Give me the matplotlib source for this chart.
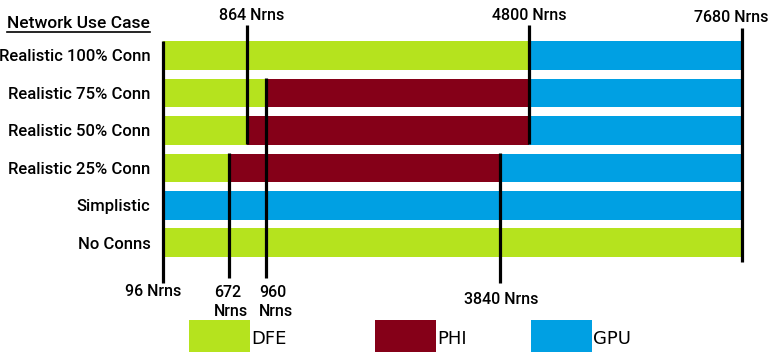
import numpy as np
import matplotlib.pyplot as plt
from matplotlib.patches import Rectangle
from matplotlib.lines import Line2D

# use cases, top to bottom
cases = ["Realistic 100% Conn", "Realistic 75% Conn", "Realistic 50% Conn",
         "Realistic 25% Conn", "Simplistic", "No Conns"]

# neuron ranges where each platform wins (start, end) per use case
dfe = [(96, 4800), (96, 960), (96, 864), (96, 672), None, (96, 7680)]
phi = [None, (960, 4800), (864, 4800), (672, 3840), None, None]
gpu = [(4800, 7680), (4800, 7680), (4800, 7680), (3840, 7680), (96, 7680), None]

# neuron counts marked on the chart
nrn_ticks = [96, 672, 864, 960, 3840, 4800, 7680]

# the original axis is drawn by hand, not to a linear scale
axis_px = [163, 229, 247, 266, 500, 529, 742]

green = "#B5E31E"
red = "#850018"
blue = "#00A0E3"
W, H = 775, 361

plt.rcParams['font.family'] = ['Roboto', 'DejaVu Sans']

fig = plt.figure(figsize=(W / 100, H / 100), dpi=100)
ax = fig.add_axes([163 / W, 0, (742 - 163) / W, 1])


def fwd(x):
    return np.interp(x, nrn_ticks, axis_px)


def inv(x):
    return np.interp(x, axis_px, nrn_ticks)


ax.set_xscale('function', functions=(fwd, inv))
ax.set_xlim(96, 7680)
ax.set_ylim(8.15, -1.48)

bh = 0.77
for series, col in [(dfe, green), (phi, red), (gpu, blue)]:
    for i, seg in enumerate(series):
        if seg is None:
            continue
        ax.barh(i, seg[1] - seg[0], left=seg[0], height=bh, color=col, linewidth=0)

# marker lines: (neuron count, top row coord, bottom row coord)
marks = [(96, -0.39, 6.07), (672, 2.61, 5.93), (864, -0.81, 2.36),
         (960, 0.61, 5.93), (3840, 2.61, 6.07), (4800, -0.81, 2.36),
         (7680, -0.73, 5.5)]
for x, y0, y1 in marks:
    ax.vlines(x, y0, y1, color='black', linewidth=2.3, clip_on=False)

lab_kw = dict(fontsize=11.5, fontweight='medium', textcoords='offset pixels',
              ha='center', va='center')
ax.annotate("864 Nrns", xy=(864, -1.07), xytext=(5, 0), **lab_kw)
ax.annotate("4800 Nrns", xy=(4800, -1.07), xytext=(0, 0), **lab_kw)
ax.annotate("7680 Nrns", xy=(7680, -1.02), xytext=(-11, 0), **lab_kw)
ax.annotate("96 Nrns", xy=(96, 6.3), xytext=(-10, 0), **lab_kw)
ax.annotate("672\nNrns", xy=(672, 6.57), xytext=(2, 0), multialignment='left', linespacing=1.3, **lab_kw)
ax.annotate("960\nNrns", xy=(960, 6.57), xytext=(10, 0), multialignment='left', linespacing=1.3, **lab_kw)
ax.annotate("3840 Nrns", xy=(3840, 6.5), xytext=(1, 0), **lab_kw)

ax.set_yticks(range(len(cases)), cases)
ax.tick_params(axis='y', length=0, pad=9, labelsize=12)
for t in ax.get_yticklabels():
    t.set_fontweight('medium')
ax.set_xticks([])
ax.minorticks_off()
for s in ax.spines.values():
    s.set_visible(False)
ax.patch.set_visible(False)

# header
fig.text(7 / W, 1 - 23 / H, "Network Use Case", fontsize=12.5, fontweight='medium',
         ha='left', va='center')
fig.add_artist(Line2D([7 / W, 150 / W], [1 - 32 / H, 1 - 32 / H], color='black',
                      linewidth=1.2, transform=fig.transFigure))

# legend boxes
for x0, col, name in [(189, green, "DFE"), (375, red, "PHI"), (531, blue, "GPU")]:
    fig.add_artist(Rectangle((x0 / W, 1 - 352 / H), 61 / W, 32 / H, color=col,
                             transform=fig.transFigure, linewidth=0))
    fig.text((x0 + 62) / W, 1 - 339 / H, name, fontsize=13, ha='left', va='center',
             family='DejaVu Sans')

fig.savefig("out.png", dpi=100)
